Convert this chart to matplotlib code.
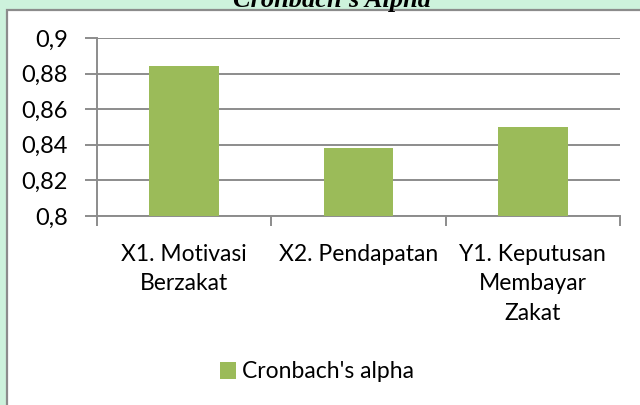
import matplotlib.pyplot as plt
from matplotlib.patches import Rectangle
import numpy as np

categories = ["X1. Motivasi\nBerzakat", "X2. Pendapatan", "Y1. Keputusan\nMembayar\nZakat"]
alpha = [0.884, 0.838, 0.850]
yticks = [0.8, 0.82, 0.84, 0.86, 0.88, 0.9]
ytick_labels = ["0,8", "0,82", "0,84", "0,86", "0,88", "0,9"]

W, H = 640, 405
fig = plt.figure(figsize=(6.4, 4.05), dpi=100)
fig.patch.set_facecolor("#cdf2dc")

# white chart box with grey border
box = Rectangle((7 / W, -0.01), 1, 1.01 - 9.5 / H, transform=fig.transFigure,
                facecolor="white", edgecolor="#8c8c8c", linewidth=1.6, zorder=-1)
fig.patches.append(box)

# title, mostly cut off at the top edge
fig.text(332 / W, 1 - 6.5 / H, "Cronbach's Alpha", ha="center", va="baseline",
         fontsize=19, fontweight="bold", fontstyle="italic",
         family="Liberation Serif", color="black", zorder=2)

ax = fig.add_axes([97 / W, 1 - 216 / H, (620 - 97) / W, (216 - 38) / H])
ax.set_zorder(1)
ax.set_facecolor("none")

x = np.arange(len(categories))
ax.bar(x, alpha, width=0.4, color="#9bbb59", zorder=3, label="Cronbach's alpha")

ax.set_xlim(-0.5, len(categories) - 0.5)
ax.set_ylim(0.8, 0.9)
ax.set_yticks(yticks)
ax.set_yticklabels(ytick_labels, fontsize=17, family="Lato")
ax.yaxis.grid(True, color="#8c8c8c", linewidth=1.4, zorder=0)

ax.set_xticks(np.arange(len(categories) + 1) - 0.5)
ax.set_xticklabels([])
ax.set_xticks(x, minor=True)
ax.set_xticklabels(categories, minor=True, fontsize=16.5, family="Lato",
                   linespacing=1.5, va="top")
ax.tick_params(axis="x", which="minor", length=0, pad=20)
ax.tick_params(axis="x", which="major", length=7, width=1.4, color="#8c8c8c")
ax.tick_params(axis="y", length=9, width=1.4, color="#8c8c8c", pad=12)

for s in ["top", "right"]:
    ax.spines[s].set_visible(False)
for s in ["left", "bottom"]:
    ax.spines[s].set_color("#8c8c8c")
    ax.spines[s].set_linewidth(1.4)

leg = fig.legend(loc="center", bbox_to_anchor=(317 / W, 1 - 372 / H),
                 frameon=False, prop={"family": "Lato", "size": 16.5},
                 handlelength=0.7, handleheight=0.7, handletextpad=0.3)

fig.savefig("out.png", dpi=100, facecolor=fig.get_facecolor())
